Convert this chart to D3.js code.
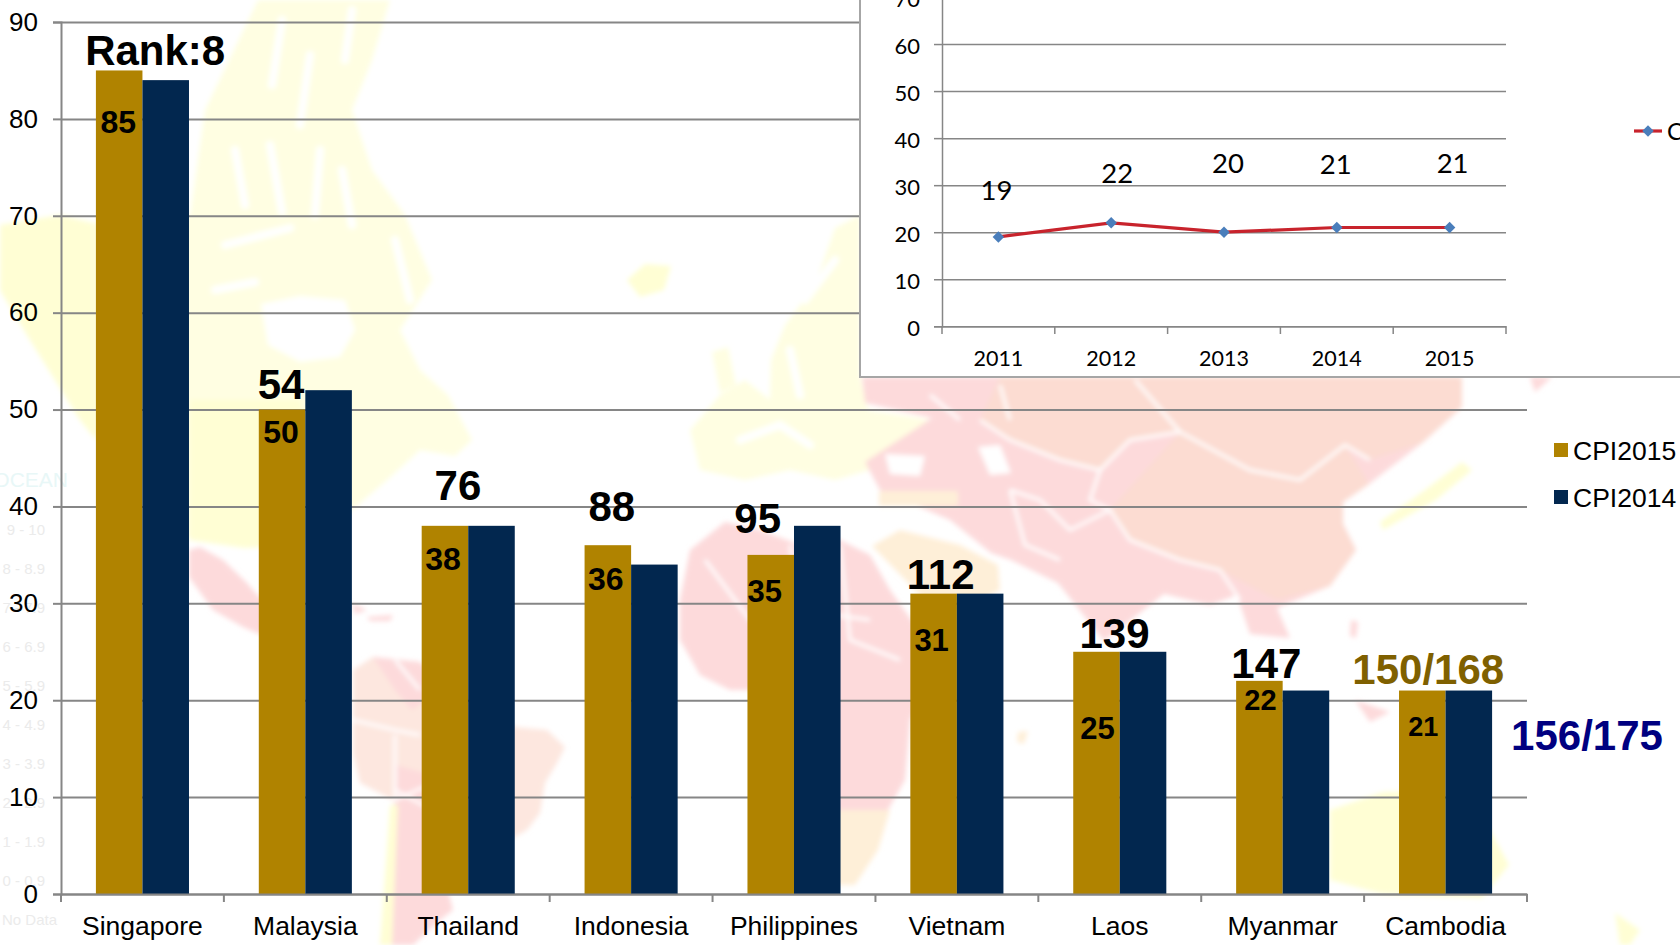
<!DOCTYPE html>
<html>
<head>
<meta charset="utf-8">
<title>CPI</title>
<script src="https://d3js.org/d3.v7.min.js"></script>
<style>
	html, body { margin: 0; padding: 0; background: #fff; overflow: hidden; }
	svg { display: block; }
	text { font-family: "Liberation Sans", Arial, sans-serif; }
	.inset text { font-family: Lato, sans-serif; }
</style>
</head>
<body>
<div id="chart"></div>
<script>
var countries = ["Singapore", "Malaysia", "Thailand", "Indonesia", "Philippines", "Vietnam", "Laos", "Myanmar", "Cambodia"];
var cpi2015 = [85, 50, 38, 36, 35, 31, 25, 22, 21];
var cpi2014 = [84, 52, 38, 34, 38, 31, 25, 21, 21];
var ranks = ["Rank:8", "54", "76", "88", "95", "112", "139", "147", "150/168"];
var seriesNames = ["CPI2015", "CPI2014"];
var yTicks = [0, 10, 20, 30, 40, 50, 60, 70, 80, 90];

var years = ["2011", "2012", "2013", "2014", "2015"];
var vietnamCpi = [19, 22, 20, 21, 21];
var insetTicks = [0, 10, 20, 30, 40, 50, 60, 70];

var ghostLegend = ["9 - 10", "8 - 8.9", "7 - 7.9", "6 - 6.9", "5 - 5.9", "4 - 4.9", "3 - 3.9", "2 - 2.9", "1 - 1.9", "0 - 0.9", "No Data"];

// label nudges, same order as the countries
var rankDx = [36, -1, 13, 4, -13, 7, 18, 7, 6];
var rankGap = [5, 11, 26, 24, 22, 5, 4, 3, 7];
var valueDx = [-1, -1, -2, -2, -6, -2, 1, 1, 1];
var valueDrop = [51, 22, 33, 33, 36, 46, 76, 19, 36];
var valueSize = [32, 32, 32, 32, 31, 31, 31, 29, 27];
var insetLabelY = [190, 173, 163, 164, 163];
var insetLabelDx = [-2, 6, 4, -1, 3];

// faded world map behind the chart, hand traced
var yellow = "#fffed4", paleYellow = "#fffee2", pink = "#fddadb", salmon = "#fde7df", peach = "#feefd8", rose = "#fcdcd2";
var mapShapes = [
	[paleYellow, "M258,0 L390,0 L372,60 L352,110 L372,170 L405,215 L432,280 L400,330 L420,370 L448,395 L472,440 L455,456 L420,450 L385,482 L340,520 L300,545 L245,548 L190,540 L130,470 L80,420 L30,340 L0,290 L0,225 L60,215 L130,230 L190,215 L205,110 Z"],
	[yellow, "M0,225 L60,215 L96,225 L96,440 L80,420 L30,340 L0,290 Z M190,400 L300,400 L340,520 L300,545 L245,548 L190,540 Z"],
	["#fff", "M261,304 L300,296 L345,300 L355,330 L340,357 L300,362 L268,345 Z"],
	[yellow, "M627,280 L645,264 L671,266 L664,290 L640,297 Z"],
	[paleYellow, "M771,360 L785,325 L815,285 L835,228 L860,215 L860,377 L868,410 L930,420 L900,450 L870,470 L835,480 L790,470 L745,480 L700,470 L690,430 L720,395 L745,380 L770,400 Z"],
	[paleYellow, "M712,352 L728,347 L736,385 L720,393 Z"],
	[pink, "M189,550 L200,547 L223,560 L247,583 L259,597 L300,620 L259,634 L243,627 L213,610 L189,577 Z"],
	[pink, "M352,603 L367,610 L355,614 Z M367,617 L393,615 L390,621 L370,621 Z"],
	[salmon, "M353,670 L373,657 L420,662 L470,700 L515,727 L547,730 L565,747 L557,763 L545,783 L540,813 L527,830 L500,845 L450,870 L420,860 L393,800 L360,783 L353,753 L353,720 Z"],
	[pink, "M373,657 L420,662 L440,690 L412,710 L395,690 Z"],
	[pink, "M395,765 L450,780 L470,830 L440,860 L453,910 L440,920 L413,945 L380,945 L393,853 Z"],
	[yellow, "M390,805 L398,805 L392,945 L380,945 Z"],
	[pink, "M680,600 L690,550 L725,522 L760,530 L800,545 L840,540 L870,555 L890,590 L915,625 L940,650 L925,690 L910,720 L905,780 L885,815 L815,815 L790,750 L775,690 L730,690 L700,675 L680,640 Z"],
	[peach, "M812,810 L890,810 L878,850 L855,885 L830,885 Z"],
	[peach, "M1018,732 L1028,731 L1024,744 L1017,742 Z"],
	[pink, "M862,377 L1462,377 L1462,407 L1422,443 L1369,484 L1343,502 L1343,524 L1356,550 L1330,586 L1277,608 L1290,638 L1250,634 L1237,595 L1210,605 L1164,594 L1104,641 L1058,583 L1011,560 L991,553 L950,520 L880,490 L865,462 L932,418 L865,403 Z"],
	[rose, "M1110,510 L1180,432 L1250,470 L1300,480 L1345,445 L1369,484 L1343,502 L1343,524 L1356,550 L1330,586 L1277,600 L1220,570 L1180,560 L1130,540 Z"],
	[rose, "M1000,377 L1462,377 L1462,407 L1422,443 L1369,460 L1345,445 L1300,480 L1250,470 L1180,432 L1130,440 L1100,470 L1060,460 L1010,440 L980,420 Z"],
	[peach, "M872,546 L900,530 L960,545 L998,565 L1000,590 L960,610 L925,600 Z"],
	[peach, "M879,491 L958,491 L958,506 L879,506 Z"],
	[pink, "M1530,377 L1552,377 L1535,392 Z"],
	["#fff", "M978,447 L1000,445 L1011,473 L990,475 Z M885,454 L925,456 L920,476 L890,474 Z"],
	[pink, "M1351,620 L1358,622 L1356,638 L1350,636 Z M1290,700 L1320,715 L1300,735 L1285,720 Z M1355,700 L1390,712 L1370,722 Z"],
	[yellow, "M1462,462 L1472,470 L1436,500 L1383,530 L1380,522 L1425,490 Z"],
	[yellow, "M1330,810 L1383,792 L1440,790 L1489,828 L1509,865 L1482,898 L1383,894 L1330,880 Z"],
	[yellow, "M1615,913 L1640,930 L1630,945 L1620,945 Z"]
];
// white channels and fjords
var mapStreaks = [
	"M235,150 L245,205", "M270,145 L282,212", "M320,150 L315,215", "M342,170 L352,225",
	"M225,245 L290,228", "M300,125 L310,55", "M272,85 L282,20", "M345,60 L352,10",
	"M215,290 L255,282", "M395,240 L410,300", "M805,300 L835,260", "M790,350 L800,395",
	"M740,440 L780,425 L810,445"
];
var mapBorders = [
	"M1180,432 L1250,470 L1300,480 L1345,445 L1370,460",
	"M1180,432 L1130,440 L1100,470 L1060,460 L1010,440 L980,420",
	"M1110,510 L1130,540 L1180,560 L1220,570 L1240,600",
	"M1100,470 L1090,500 L1110,510 L1070,530 L1040,500 L1010,490",
	"M1010,490 L1025,545 L1060,560",
	"M1000,385 L1010,420 M1135,380 L1180,432 M930,395 L960,420",
	"M705,560 L750,620 L800,610 L870,620 M790,545 L800,610 L790,690 M840,545 L850,640 L900,660",
	"M395,660 L420,690 M353,720 L395,730 L420,735 M395,735 L395,800 L440,780",
	"M395,790 L470,830"
];

var width = 1680;
var height = 945;
var margin = { left: 61, right: 153, top: 22, bottom: 51 };
var plotW = width - margin.left - margin.right;
var plotH = height - margin.top - margin.bottom;

var svg = d3.select("#chart")
	.append("svg")
		.attr("width", width)
		.attr("height", height);

svg.append("filter")
		.attr("id", "soft")
	.append("feGaussianBlur")
		.attr("stdDeviation", 2.5);

// background map
var map = svg.append("g").attr("filter", "url(#soft)");
map.selectAll("path.land")
	.data(mapShapes)
	.enter()
	.append("path")
		.attr("class", "land")
		.attr("d", function(d) { return d[1]; })
		.attr("fill", function(d) { return d[0]; });
map.selectAll("path.streak")
	.data(mapStreaks)
	.enter()
	.append("path")
		.attr("class", "streak")
		.attr("d", function(d) { return d; })
		.attr("fill", "none")
		.attr("stroke", "#fff")
		.attr("stroke-linecap", "round")
		.attr("stroke-width", 8);
map.selectAll("path.border")
	.data(mapBorders)
	.enter()
	.append("path")
		.attr("class", "border")
		.attr("d", function(d) { return d; })
		.attr("fill", "none")
		.attr("stroke", "#fff")
		.attr("stroke-width", 3);

svg.append("text")
	.attr("x", 68)
	.attr("y", 487)
	.attr("text-anchor", "end")
	.attr("font-size", 21)
	.attr("fill", "#e8f7f7")
	.text("OCEAN");

svg.selectAll("text.ghost")
	.data(ghostLegend)
	.enter()
	.append("text")
		.attr("class", "ghost")
		.attr("x", function(d) { return d == "No Data" ? 57 : 45; })
		.attr("y", function(d, i) { return 535 + i * 39; })
		.attr("text-anchor", "end")
		.attr("font-size", 15)
		.attr("fill", "#ebebeb")
		.text(function(d) { return d; });

// main chart
var g = svg.append("g")
	.attr("transform", "translate(" + margin.left + "," + margin.top + ")");

var x0 = d3.scaleBand().domain(countries).range([0, plotW]);
var x1 = d3.scaleBand().domain(seriesNames).range([0, x0.bandwidth()]).paddingOuter(0.75);
var y = d3.scaleLinear().domain([0, 90]).range([plotH, 0]);

var grid = g.append("g")
	.call(d3.axisLeft(y).tickValues(yTicks).tickSize(-plotW).tickFormat(""));
grid.select(".domain").remove();
grid.selectAll("line").attr("stroke", "#868686").attr("stroke-width", 2);

var seriesColor = d3.scaleOrdinal().domain(seriesNames).range(["#b08300", "#02274f"]);
var seriesValues = [cpi2015, cpi2014];

seriesNames.forEach(function(name, s) {
	g.selectAll("rect.s" + s)
		.data(seriesValues[s])
		.enter()
		.append("rect")
			.attr("class", "s" + s)
			.attr("x", function(d, i) { return x0(countries[i]) + x1(name); })
			.attr("y", function(d) { return y(d); })
			.attr("width", x1.bandwidth())
			.attr("height", function(d) { return plotH - y(d); })
			.attr("fill", seriesColor(name));
});

var yAxis = g.append("g")
	.call(d3.axisLeft(y).tickValues(yTicks).tickSize(8).tickPadding(15));
yAxis.selectAll("text").attr("font-size", 26).attr("fill", "#000").attr("font-family", "Liberation Sans");
yAxis.selectAll("line").attr("stroke", "#868686").attr("stroke-width", 2);
yAxis.select(".domain").attr("stroke", "#868686").attr("stroke-width", 2);

var xAxis = g.append("g")
	.attr("transform", "translate(0," + plotH + ")")
	.call(d3.axisBottom(x0).tickSize(0).tickPadding(22));
xAxis.selectAll("text").attr("font-size", 26.5).attr("fill", "#000").attr("font-family", "Liberation Sans");
xAxis.select(".domain").attr("stroke", "#868686").attr("stroke-width", 2);

// ticks sit between the categories, not under them
g.selectAll("line.sep")
	.data(countries.concat(["end"]))
	.enter()
	.append("line")
		.attr("class", "sep")
		.attr("x1", function(d, i) { return i * x0.step(); })
		.attr("x2", function(d, i) { return i * x0.step(); })
		.attr("y1", plotH)
		.attr("y2", plotH + 8)
		.attr("stroke", "#868686")
		.attr("stroke-width", 2);

function bar15Center(i) {
	return x0(countries[i]) + x1(seriesNames[0]) + x1.bandwidth() / 2;
}

g.selectAll("text.rank")
	.data(ranks)
	.enter()
	.append("text")
		.attr("class", "rank")
		.attr("x", function(d, i) { return bar15Center(i) + rankDx[i]; })
		.attr("y", function(d, i) { return y(cpi2015[i]) - rankGap[i]; })
		.attr("text-anchor", "middle")
		.attr("font-size", 42)
		.attr("font-weight", "bold")
		.attr("fill", function(d) { return d == "150/168" ? "#7f6000" : "#000"; })
		.text(function(d) { return d; });

g.selectAll("text.val")
	.data(cpi2015)
	.enter()
	.append("text")
		.attr("class", "val")
		.attr("x", function(d, i) { return bar15Center(i) + valueDx[i]; })
		.attr("y", function(d, i) { return y(d) + valueDrop[i]; })
		.attr("dy", "0.36em")
		.attr("text-anchor", "middle")
		.attr("font-size", function(d, i) { return valueSize[i]; })
		.attr("font-weight", "bold")
		.attr("fill", "#000")
		.text(function(d) { return d; });

svg.append("text")
	.attr("x", 1587)
	.attr("y", 750)
	.attr("text-anchor", "middle")
	.attr("font-size", 42)
	.attr("font-weight", "bold")
	.attr("fill", "#000080")
	.text("156/175");

// legend
var legend = svg.selectAll("g.legend")
	.data(seriesNames)
	.enter()
	.append("g")
		.attr("class", "legend")
		.attr("transform", function(d, i) { return "translate(1554," + (443 + i * 47) + ")"; });
legend.append("rect")
	.attr("width", 14)
	.attr("height", 14)
	.attr("fill", function(d) { return seriesColor(d); });
legend.append("text")
	.attr("x", 19)
	.attr("y", 7)
	.attr("dy", "0.36em")
	.attr("font-size", 26.5)
	.attr("fill", "#000")
	.text(function(d) { return d; });

// inset line chart, cut off by the top and right of the slide
var inset = svg.append("g").attr("class", "inset");

inset.append("rect")
	.attr("x", 860)
	.attr("y", -10)
	.attr("width", 840)
	.attr("height", 387)
	.attr("fill", "#fff")
	.attr("stroke", "#a6a6a6")
	.attr("stroke-width", 2);

var ix = d3.scaleBand().domain(years).range([942, 1506]);
var iy = d3.scaleLinear().domain([0, 70]).range([326.3, -3]);

var iGrid = inset.append("g")
	.attr("transform", "translate(942,0)")
	.call(d3.axisLeft(iy).tickValues(insetTicks).tickSize(-564).tickFormat(""));
iGrid.select(".domain").remove();
iGrid.selectAll("line").attr("stroke", "#868686").attr("stroke-width", 1.5);

var iyAxis = inset.append("g")
	.attr("transform", "translate(942,0)")
	.call(d3.axisLeft(iy).tickValues(insetTicks).tickSize(8).tickPadding(14));
iyAxis.selectAll("text").attr("font-size", 22).attr("fill", "#000").attr("dy", "0.42em");
iyAxis.selectAll("line").attr("stroke", "#868686").attr("stroke-width", 1.5);
iyAxis.select(".domain").attr("stroke", "#868686").attr("stroke-width", 1.5);

var ixAxis = inset.append("g")
	.attr("transform", "translate(0,326.3)")
	.call(d3.axisBottom(ix).tickSize(0).tickPadding(24));
ixAxis.selectAll("text").attr("font-size", 21.5).attr("fill", "#000");
ixAxis.select(".domain").attr("stroke", "#868686").attr("stroke-width", 1.5);

inset.selectAll("line.sep")
	.data(years.concat(["end"]))
	.enter()
	.append("line")
		.attr("class", "sep")
		.attr("x1", function(d, i) { return 942 + i * ix.step(); })
		.attr("x2", function(d, i) { return 942 + i * ix.step(); })
		.attr("y1", 326.3)
		.attr("y2", 334)
		.attr("stroke", "#868686")
		.attr("stroke-width", 1.5);

var line = d3.line()
	.x(function(d, i) { return ix(years[i]) + ix.bandwidth() / 2; })
	.y(function(d) { return iy(d); });

inset.append("path")
	.datum(vietnamCpi)
	.attr("d", line)
	.attr("fill", "none")
	.attr("stroke", "#c8232c")
	.attr("stroke-width", 3.2);

var diamond = d3.symbol().type(d3.symbolSquare).size(66);

inset.selectAll("path.pt")
	.data(vietnamCpi)
	.enter()
	.append("path")
		.attr("class", "pt")
		.attr("d", diamond)
		.attr("fill", "#4a7ebb")
		.attr("transform", function(d, i) {
			return "translate(" + (ix(years[i]) + ix.bandwidth() / 2) + "," + iy(d) + ") rotate(45)";
		});

inset.selectAll("text.lab")
	.data(vietnamCpi)
	.enter()
	.append("text")
		.attr("class", "lab")
		.attr("x", function(d, i) { return ix(years[i]) + ix.bandwidth() / 2 + insetLabelDx[i]; })
		.attr("y", function(d, i) { return insetLabelY[i]; })
		.attr("dy", "0.36em")
		.attr("text-anchor", "middle")
		.attr("font-size", 27.5)
		.attr("fill", "#000")
		.text(function(d) { return d; });

// inset legend, only the first letter fits on the slide
inset.append("line")
	.attr("x1", 1634)
	.attr("x2", 1662)
	.attr("y1", 131)
	.attr("y2", 131)
	.attr("stroke", "#c8232c")
	.attr("stroke-width", 3.2);
inset.append("path")
	.attr("d", diamond)
	.attr("fill", "#4a7ebb")
	.attr("transform", "translate(1648,131) rotate(45)");
inset.append("text")
	.attr("x", 1667)
	.attr("y", 131)
	.attr("dy", "0.36em")
	.attr("font-size", 24)
	.attr("fill", "#000")
	.text("C");
</script>
</body>
</html>
